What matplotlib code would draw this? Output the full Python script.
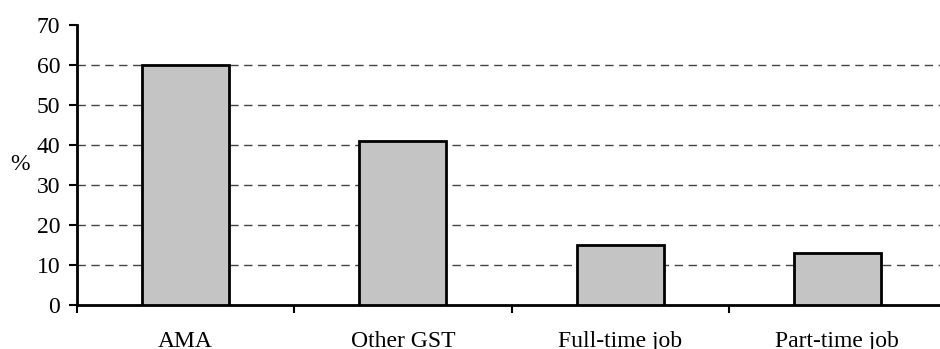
import numpy as np
import matplotlib
matplotlib.use('Agg')
import matplotlib.pyplot as plt
import matplotlib.ticker as ticker

# Share of respondents by activity
categories = ["AMA", "Other GST", "Full-time job", "Part-time job"]
values = [60, 41, 15, 13]
y_ticks = [0, 10, 20, 30, 40, 50, 60, 70]

plt.rcParams['font.family'] = ['Liberation Serif', 'DejaVu Serif']
plt.rcParams['font.size'] = 17

fig = plt.figure(figsize=(9.4, 3.49), dpi=100)
ax = fig.add_axes([77 / 940, 1 - 305 / 349, (946 - 77) / 940, (305 - 25) / 349])

x = np.arange(len(categories))
ax.bar(x, values, width=0.40, color='#c4c4c4', edgecolor='black',
       linewidth=2.0, zorder=3)

ax.set_xlim(-0.5, len(categories) - 0.5)
ax.set_ylim(0, 70)

# y axis
ax.set_yticks(y_ticks)
ax.tick_params(axis='y', direction='out', length=6, width=1.5, pad=6)
for y in y_ticks[1:-1]:
    ax.axhline(y, color='#444444', linewidth=1.0, linestyle=(0, (6, 4)), zorder=1)
ax.set_ylabel("%", rotation=0, labelpad=12, va='center')

# x axis: ticks at category boundaries, labels centred under bars
ax.set_xticks(np.arange(-0.5, len(categories), 1.0))
ax.set_xticklabels([])
ax.tick_params(axis='x', which='major', direction='out', length=6, width=1.5)
ax.xaxis.set_minor_locator(ticker.FixedLocator(x))
ax.xaxis.set_minor_formatter(ticker.FixedFormatter(categories))
ax.tick_params(axis='x', which='minor', length=0, pad=19)

for side in ['top', 'right']:
    ax.spines[side].set_visible(False)
for side in ['left', 'bottom']:
    ax.spines[side].set_linewidth(2.0)

plt.savefig("out.png", dpi=100)
